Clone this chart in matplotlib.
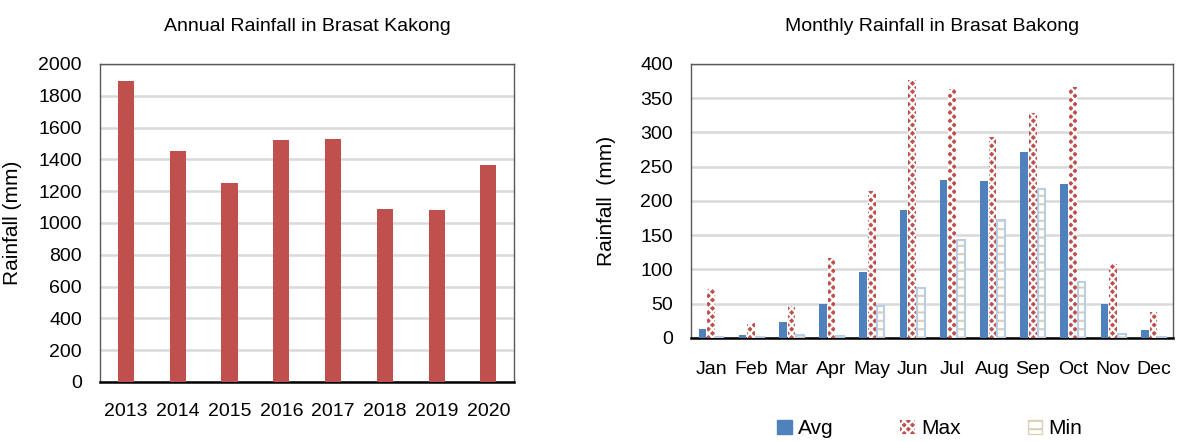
import matplotlib
matplotlib.use("Agg")
import matplotlib.pyplot as plt
import numpy as np
from matplotlib.patches import Patch

plt.rcParams['font.family'] = ['Liberation Sans', 'DejaVu Sans']
plt.rcParams['hatch.linewidth'] = 1.6

years = ["2013", "2014", "2015", "2016", "2017", "2018", "2019", "2020"]
annual = [1893, 1455, 1250, 1522, 1526, 1088, 1084, 1365]

months = ["Jan", "Feb", "Mar", "Apr", "May", "Jun", "Jul", "Aug", "Sep", "Oct", "Nov", "Dec"]
avg = [13, 3.5, 23, 49, 96, 186, 230, 229, 271, 225, 50, 11]
mx = [72, 22, 47, 117, 215, 377, 364, 294, 328, 366, 108, 38]
mn = [1, 0.5, 4.5, 2, 46, 73, 143, 172, 218, 82, 5, 0.5]

RED = '#C0504D'
BLUE = '#4F81BD'
GRID = '#D9D9D9'
TFS = 14
TITLE_FS = 14
LFS = 15

fig = plt.figure(figsize=(11.77, 4.41), dpi=100)

# Left chart
ax1 = fig.add_axes([0.085, 0.134, 0.352, 0.721])
x1 = np.arange(len(years))
ax1.bar(x1, annual, width=0.31, color=RED, zorder=3)
ax1.set_xlim(-0.5, len(years) - 0.5)
ax1.set_ylim(0, 2000)
ax1.set_yticks(np.arange(0, 2001, 200))
ax1.set_xticks(x1)
ax1.set_xticklabels(years)
ax1.yaxis.grid(True, color=GRID, linewidth=1.8, zorder=0)
ax1.set_axisbelow(True)
ax1.tick_params(axis='both', length=0, labelsize=TFS)
ax1.tick_params(axis='y', pad=13)
ax1.tick_params(axis='x', pad=15)
ax1.set_ylabel("Rainfall (mm)", fontsize=LFS)
ax1.yaxis.set_label_coords(-0.188, 0.5)
ax1.set_title("Annual Rainfall in Brasat Kakong", fontsize=TITLE_FS, pad=24)
for s in ['top', 'right', 'left']:
    ax1.spines[s].set_color('#595959')
    ax1.spines[s].set_linewidth(1.0)
ax1.spines['bottom'].set_color('black')
ax1.spines['bottom'].set_linewidth(1.8)

# Right chart
ax2 = fig.add_axes([0.587, 0.234, 0.410, 0.621])
x2 = np.arange(len(months))
w = 0.19
gap = 0.025
ax2.bar(x2 - (w + gap), avg, width=w, color=BLUE, zorder=3)
ax2.bar(x2, mx, width=w, color=RED, edgecolor='white', hatch='xxxx', linewidth=0, zorder=3)
ax2.bar(x2 + (w + gap), mn, width=w, color='white', edgecolor='#D8D3B8', hatch='--', linewidth=0, zorder=3)
ax2.bar(x2 + (w + gap), mn, width=w, fill=False, edgecolor='#B9CDE5', linewidth=1.5, zorder=4)
ax2.set_xlim(-0.5, len(months) - 0.5)
ax2.set_ylim(0, 400)
ax2.set_yticks(np.arange(0, 401, 50))
ax2.set_xticks(x2)
ax2.set_xticklabels(months)
ax2.yaxis.grid(True, color=GRID, linewidth=1.8, zorder=0)
ax2.set_axisbelow(True)
ax2.tick_params(axis='both', length=0, labelsize=TFS)
ax2.tick_params(axis='y', pad=13)
ax2.tick_params(axis='x', pad=17)
ax2.set_ylabel("Rainfall  (mm)", fontsize=LFS)
ax2.yaxis.set_label_coords(-0.155, 0.5)
ax2.set_title("Monthly Rainfall in Brasat Bakong", fontsize=TITLE_FS, pad=24)
for s in ['top', 'right', 'left']:
    ax2.spines[s].set_color('#595959')
    ax2.spines[s].set_linewidth(1.0)
ax2.spines['bottom'].set_color('black')
ax2.spines['bottom'].set_linewidth(1.8)

handles = [
    Patch(facecolor=BLUE, edgecolor=BLUE, label='Avg'),
    Patch(facecolor=RED, edgecolor='white', hatch='xxxx', linewidth=0, label='Max'),
    Patch(facecolor='white', edgecolor='#D8D3B8', hatch='--', label='Min'),
]
leg = fig.legend(handles=handles, loc='center', bbox_to_anchor=(0.79, 0.028), ncol=3,
                 frameon=False, fontsize=LFS, handlelength=0.7, handleheight=0.7,
                 handletextpad=0.3, columnspacing=3.2)

fig.savefig("out.png", dpi=100)
